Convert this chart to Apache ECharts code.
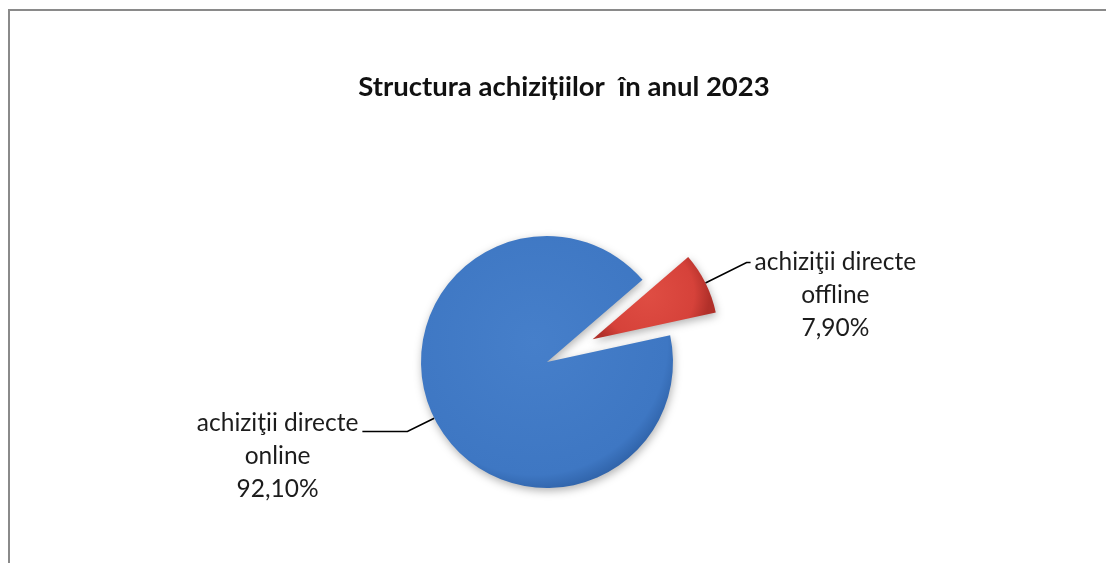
<!DOCTYPE html>
<html>
<head>
<meta charset="utf-8">
<script src="https://cdn.jsdelivr.net/npm/echarts@6/dist/echarts.min.js"></script>
<style>
html,body{margin:0;padding:0;background:#fff;}
#chart{width:1106px;height:563px;}
</style>
</head>
<body>
<div id="chart"></div>
<script>
const chartTitle = 'Structura achizițiilor  în anul 2023';
const categories = ['achiziţii directe offline', 'achiziţii directe online'];
const labelLines = [['achiziţii directe', 'offline'], ['achiziţii directe', 'online']];
const values = [7.9, 92.1];

const fmtPct = v => v.toFixed(2).replace('.', ',') + '%';

const styles = [
  { // offline - red
    color: { type: 'radial', x: 0.45, y: 0.45, r: 0.75,
      colorStops: [{offset: 0, color: '#df4d43'}, {offset: 0.75, color: '#d6423a'}, {offset: 1, color: '#b1302a'}] },
    labelLine: { length: 46, length2: 4 },
    padding: [66, 0, 0, 0],
    selected: true
  },
  { // online - blue
    color: { type: 'radial', x: 0.45, y: 0.42, r: 0.6,
      colorStops: [{offset: 0, color: '#467fca'}, {offset: 0.88, color: '#3e77c3'}, {offset: 1, color: '#2f62a8'}] },
    labelLine: { length: 30, length2: 45 },
    padding: [50, 0, 0, 0],
    selected: false
  }
];

const data = values.map((v, i) => ({
  name: categories[i],
  value: v,
  selected: styles[i].selected,
  itemStyle: { color: styles[i].color },
  labelLine: Object.assign({ show: true, lineStyle: { color: '#000', width: 1.6 } }, styles[i].labelLine),
  label: {
    padding: styles[i].padding,
    formatter: () => labelLines[i].map(t => '{c|' + t + '}').join('\n') + '\n{c|' + fmtPct(v) + '}'
  }
}));

const chart = echarts.init(document.getElementById('chart'), null, { renderer: 'canvas' });
chart.setOption({
  backgroundColor: '#ffffff',
  animation: false,
  title: {
    text: chartTitle,
    left: 559,
    textAlign: 'center',
    top: 68,
    textStyle: { fontFamily: 'Lato', fontWeight: 'bold', fontSize: 27.5, color: '#111' }
  },
  graphic: [{
    type: 'rect',
    shape: { x: 9, y: 10, width: 1200, height: 700 },
    style: { fill: 'none', stroke: '#8a8a8a', lineWidth: 2 },
    silent: true
  }],
  series: [{
    type: 'pie',
    center: [547, 362],
    radius: [0, 126],
    startAngle: 40.7,
    clockwise: true,
    selectedMode: 'single',
    selectedOffset: 51,
    avoidLabelOverlap: false,
    itemStyle: { shadowBlur: 8, shadowColor: 'rgba(0,0,0,0.3)', shadowOffsetX: 1, shadowOffsetY: 3 },
    emphasis: { disabled: true },
    select: { itemStyle: {} },
    label: {
      show: true,
      position: 'outside',
      distanceToLabelLine: 4,
      fontFamily: 'Lato',
      fontSize: 24.5,
      lineHeight: 33,
      color: '#1c1c1c',
      rich: { c: { align: 'center', fontFamily: 'Lato', fontSize: 24.5, lineHeight: 33, color: '#1c1c1c' } }
    },
    data: data
  }]
});
</script>
</body>
</html>
